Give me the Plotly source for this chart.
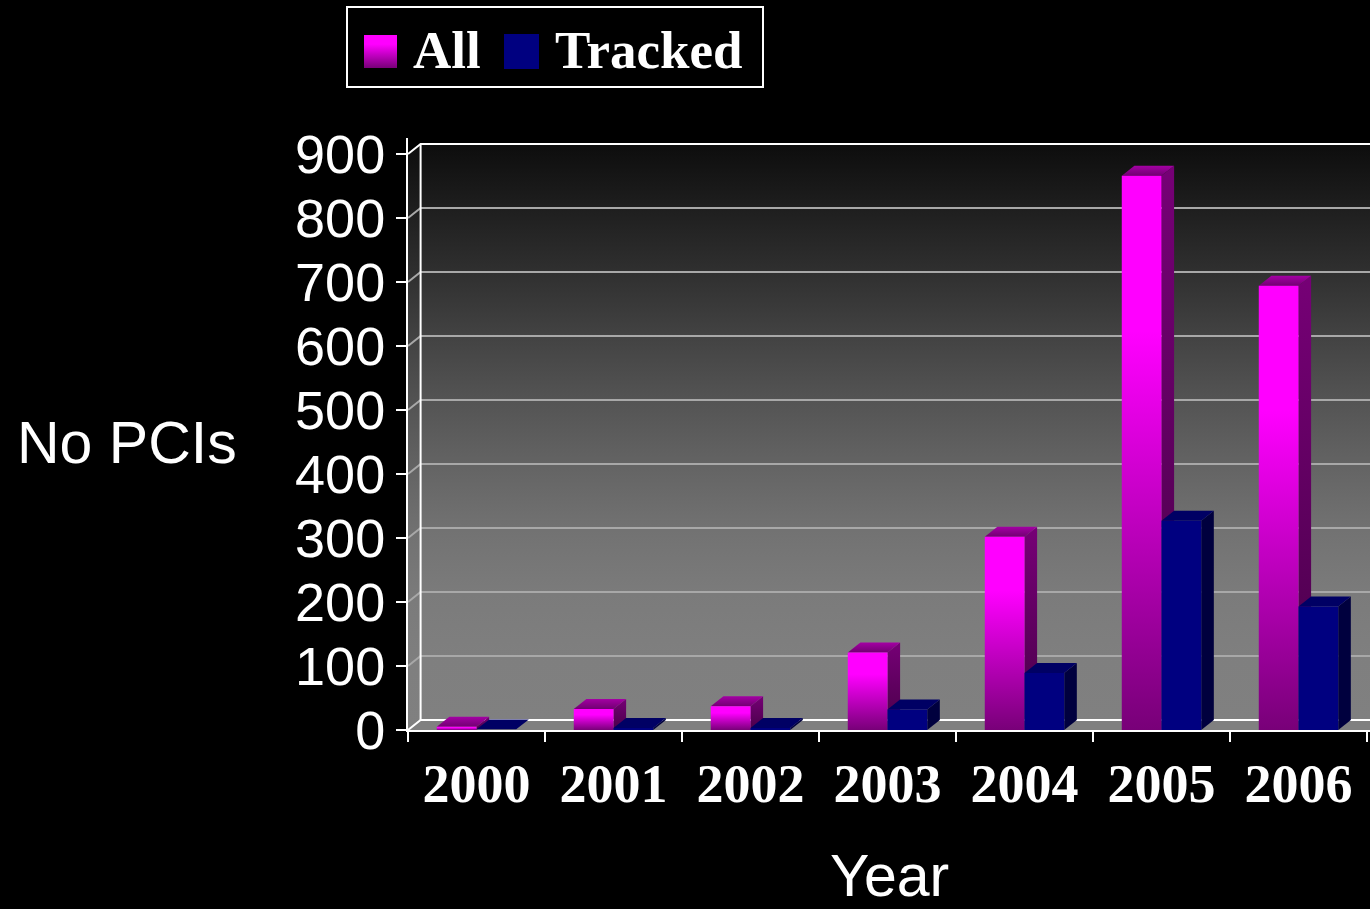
import plotly.graph_objects as go

# ---- data -------------------------------------------------------------
years = ["2000", "2001", "2002", "2003", "2004", "2005", "2006"]
all_pcis = [5, 33, 37, 121, 302, 866, 694]
tracked_pcis = [1, 3, 3, 32, 89, 327, 193]
y_ticks = [0, 100, 200, 300, 400, 500, 600, 700, 800, 900]

# ---- figure geometry ----------------------------------------------------
W, H = 1370, 909
PLOT_L, PLOT_B, PLOT_T = 408, 179, 138          # plot box in pixels
X_MIN, X_MAX = -0.5, len(years) - 0.5 + 3 / 137
Y_MAX, Y_TOP = 900, 925

BAR_W = 0.29        # width of one bar in category units
DEPTH_X = 0.092     # pseudo-3D depth, horizontal (category units)
DEPTH_Y = 15.6      # pseudo-3D depth, vertical (value units)
FAR_X = X_MAX + 1   # walls run past the right edge and get clipped

SANS = "Liberation Sans"
SERIF = "Liberation Serif"

WALL_SCALE = [[0.0, "#808080"], [0.11, "#7f7f7f"], [0.22, "#7b7b7b"],
              [0.33, "#727272"], [0.44, "#646464"], [0.56, "#535353"],
              [0.67, "#424242"], [0.78, "#2f2f2f"], [0.89, "#1e1e1e"],
              [1.0, "#0d0d0d"]]
ALL_FRONT = [[0.0, "#780078"], [0.72, "#ff00ff"], [1.0, "#ff00ff"]]
ALL_SIDE = [[0.0, "#480048"], [1.0, "#760076"]]
ALL_TOP = [[0.0, "#720072"], [1.0, "#a400a4"]]
TR_FRONT, TR_SIDE, TR_TOP = "#000080", "#00003e", "#000064"

fig = go.Figure()


def face(xs, ys, color=None, scale=None, xaxis="x", yaxis="y"):
    kw = {}
    if scale is not None:
        kw["fillgradient"] = dict(type="vertical", colorscale=scale)
    else:
        kw["fillcolor"] = color
    fig.add_trace(go.Scatter(
        x=list(xs) + [xs[0]], y=list(ys) + [ys[0]], mode="lines",
        fill="toself", line=dict(width=0), hoverinfo="skip",
        showlegend=False, xaxis=xaxis, yaxis=yaxis, **kw))


def edge(xs, ys, color, width=2):
    fig.add_trace(go.Scatter(
        x=xs, y=ys, mode="lines", line=dict(color=color, width=width),
        hoverinfo="skip", showlegend=False))


# ---- walls, floor and grid ----------------------------------------------
bx = X_MIN + DEPTH_X
face([bx, FAR_X, FAR_X, bx], [DEPTH_Y, DEPTH_Y, Y_MAX + DEPTH_Y, Y_MAX + DEPTH_Y],
     scale=WALL_SCALE)
face([X_MIN, bx, bx, X_MIN], [0, DEPTH_Y, Y_MAX + DEPTH_Y, Y_MAX], scale=WALL_SCALE)
face([X_MIN, FAR_X, FAR_X + DEPTH_X, bx], [0, 0, DEPTH_Y, DEPTH_Y], color="#808080")

for v in y_ticks[1:-1]:
    edge([X_MIN, bx, FAR_X], [v, v + DEPTH_Y, v + DEPTH_Y], "#a8a8a8")
edge([X_MIN, bx, FAR_X], [Y_MAX, Y_MAX + DEPTH_Y, Y_MAX + DEPTH_Y], "white")
edge([X_MIN, bx, FAR_X], [0, DEPTH_Y, DEPTH_Y], "white")
edge([bx, bx], [DEPTH_Y, Y_MAX + DEPTH_Y], "white")


# ---- bars -----------------------------------------------------------------
def bar(x0, v, front, side, top):
    x1 = x0 + BAR_W
    if isinstance(side, list):
        face([x1, x1 + DEPTH_X, x1 + DEPTH_X, x1], [0, DEPTH_Y, v + DEPTH_Y, v], scale=side)
        face([x0, x1, x1 + DEPTH_X, x0 + DEPTH_X], [v, v, v + DEPTH_Y, v + DEPTH_Y], scale=top)
        face([x0, x1, x1, x0], [0, 0, v, v], scale=front)
    else:
        face([x1, x1 + DEPTH_X, x1 + DEPTH_X, x1], [0, DEPTH_Y, v + DEPTH_Y, v], color=side)
        face([x0, x1, x1 + DEPTH_X, x0 + DEPTH_X], [v, v, v + DEPTH_Y, v + DEPTH_Y], color=top)
        face([x0, x1, x1, x0], [0, 0, v, v], color=front)


for i, v in enumerate(all_pcis):
    bar(i - BAR_W, v, ALL_FRONT, ALL_SIDE, ALL_TOP)
for i, v in enumerate(tracked_pcis):
    bar(i, v, TR_FRONT, TR_SIDE, TR_TOP)

# ---- legend ---------------------------------------------------------------
LEG = (347, 7, 763, 87)   # left, top, right, bottom in pixels


def px_x(p):
    return p / W


def px_y(p):
    return 1 - p / H


face([17, 50, 50, 17], [19, 19, 52, 52], scale=ALL_FRONT, xaxis="x2", yaxis="y2")
face([157, 192, 192, 157], [18, 18, 53, 53], color=TR_FRONT, xaxis="x2", yaxis="y2")

annotations = [
    dict(text="All", x=px_x(411), y=px_y(50), xanchor="left", yanchor="middle"),
    dict(text="Tracked", x=px_x(553), y=px_y(50), xanchor="left", yanchor="middle"),
]
annotations = [dict(a, xref="paper", yref="paper", showarrow=False,
                    font=dict(family=SERIF, size=53, color="white", weight="bold"))
               for a in annotations]
annotations += [
    dict(text="No PCIs", x=px_x(127), y=px_y(443), xref="paper", yref="paper",
         xanchor="center", yanchor="middle", showarrow=False,
         font=dict(family=SANS, size=59, color="white")),
    dict(text="Year", x=px_x(889), y=px_y(876), xref="paper", yref="paper",
         xanchor="center", yanchor="middle", showarrow=False,
         font=dict(family=SANS, size=59, color="white")),
]

fig.update_layout(
    width=W, height=H, autosize=False,
    margin=dict(l=0, r=0, t=0, b=0, pad=0),
    paper_bgcolor="black", plot_bgcolor="black",
    showlegend=False,
    annotations=annotations,
    shapes=[dict(type="rect", xref="paper", yref="paper",
                 x0=px_x(LEG[0]), x1=px_x(LEG[2]), y0=px_y(LEG[3]), y1=px_y(LEG[1]),
                 line=dict(color="white", width=2))],
    xaxis=dict(
        domain=[PLOT_L / W, 1], range=[X_MIN, X_MAX], anchor="y", automargin=False,
        tickmode="array", tickvals=list(range(len(years))), ticktext=years,
        ticks="", showgrid=False, zeroline=False,
        showline=True, linecolor="white", linewidth=2,
        tickfont=dict(family=SERIF, size=54, color="white", weight="bold"),
        ticklabelstandoff=5,
        minor=dict(tickmode="array", tickvals=[i - 0.5 for i in range(len(years) + 1)],
                   ticks="outside", ticklen=10, tickwidth=2, tickcolor="white",
                   showgrid=False),
    ),
    yaxis=dict(
        domain=[PLOT_B / H, 1 - PLOT_T / H], range=[0, Y_TOP], anchor="x",
        automargin=False,
        tickmode="array", tickvals=y_ticks,
        ticks="outside", ticklen=10, tickwidth=2, tickcolor="white",
        showgrid=False, zeroline=False,
        showline=True, linecolor="white", linewidth=2,
        tickfont=dict(family=SANS, size=54, color="white"),
    ),
    xaxis2=dict(domain=[px_x(LEG[0]), px_x(LEG[2])], range=[0, LEG[2] - LEG[0]],
                anchor="y2", visible=False, automargin=False),
    yaxis2=dict(domain=[px_y(LEG[3]), px_y(LEG[1])], range=[0, LEG[3] - LEG[1]],
                anchor="x2", visible=False, automargin=False),
)

fig.write_html("out.html")
